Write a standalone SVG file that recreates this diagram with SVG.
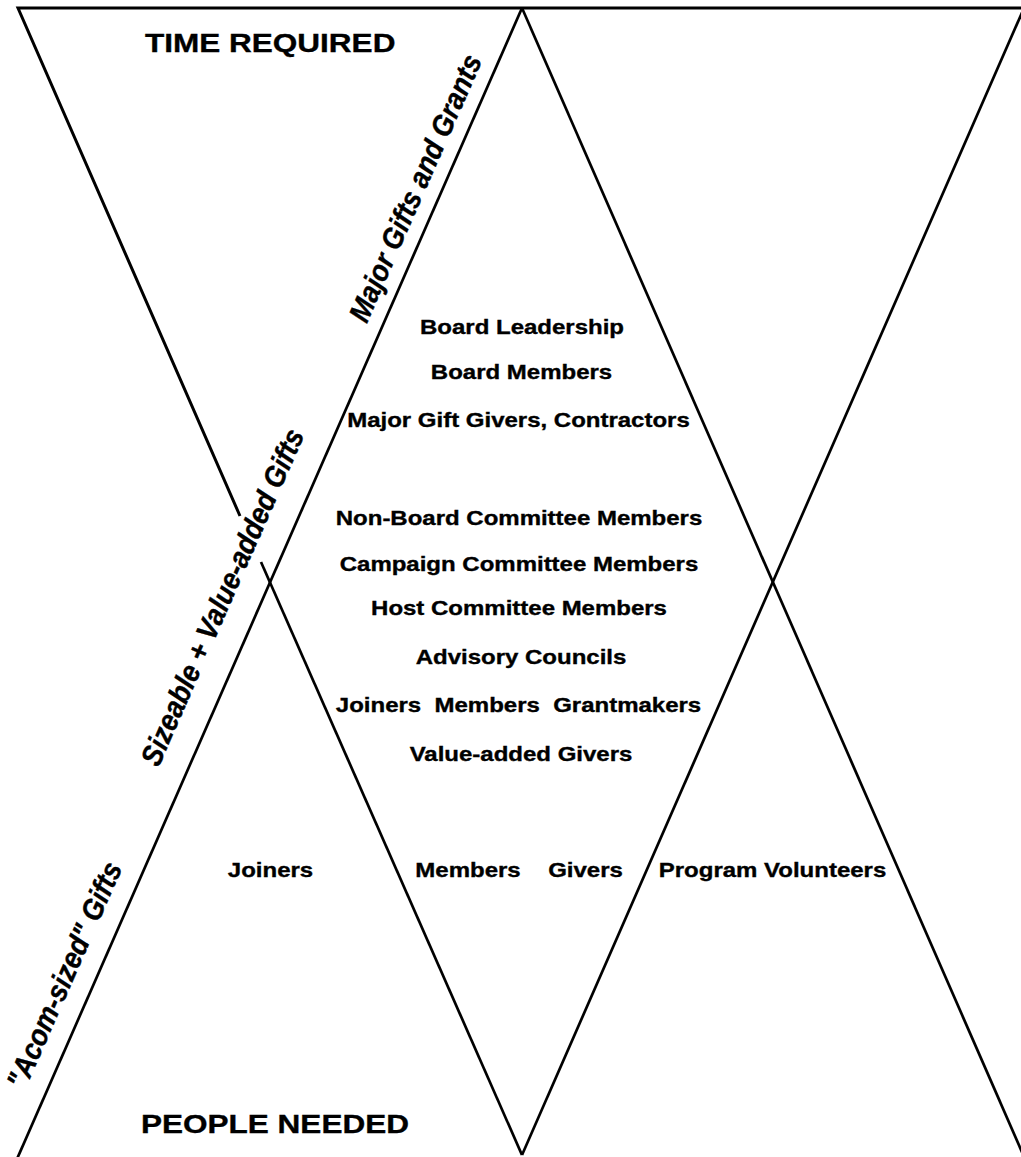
<svg xmlns="http://www.w3.org/2000/svg" width="1021" height="1157" viewBox="0 0 1021 1157">
<style>
.ln{stroke:#000;stroke-width:2.7;fill:none;stroke-linejoin:miter}
.t{font-family:"Liberation Sans",Arial,Helvetica,sans-serif;font-weight:bold;fill:#000;stroke:#000;stroke-width:0.35}
.b{font-size:20px;text-anchor:middle}
.h{font-size:26.5px}
.r{font-size:26.5px;font-style:italic;text-anchor:middle;dominant-baseline:central}
</style>
<rect width="1021" height="1157" fill="#fff"/>
<g id="connectors">
<path class="ln" d="M1024,8 H18 L240,516" style="stroke-width:3"/>
<line class="ln" x1="261" y1="562" x2="522" y2="1155"/>
<line class="ln" x1="522" y1="8" x2="17" y2="1159"/>
<line class="ln" x1="522" y1="8" x2="1025" y2="1159"/>
<line class="ln" x1="1024" y1="8" x2="522" y2="1155"/>
</g>
<g id="title-time"><text class="t h" transform="translate(145,52) scale(1.19,1)">TIME REQUIRED</text></g>
<g id="title-people"><text class="t h" transform="translate(141,1133) scale(1.19,1)">PEOPLE NEEDED</text></g>
<g id="label-major"><text class="t r" transform="translate(415,188) rotate(-66.3) scale(1.01,1.12)">Major Gifts and Grants</text></g>
<g id="label-sizeable"><text class="t r" transform="translate(222,597) rotate(-66.3) scale(1.01,1.12)">Sizeable + Value-added Gifts</text></g>
<g id="label-acorn"><text class="t r" transform="translate(64,975) rotate(-66.3) scale(1.01,1.12)">"Acom-sized" Gifts</text></g>
<g id="node-board-leadership"><text class="t b" transform="translate(522,334) scale(1.2,1)">Board Leadership</text></g>
<g id="node-board-members"><text class="t b" transform="translate(521.5,379) scale(1.2,1)">Board Members</text></g>
<g id="node-major-givers"><text class="t b" transform="translate(518.5,427) scale(1.2,1)">Major Gift Givers, Contractors</text></g>
<g id="node-nonboard"><text class="t b" transform="translate(519,525) scale(1.2,1)">Non-Board Committee Members</text></g>
<g id="node-campaign"><text class="t b" transform="translate(519,571) scale(1.2,1)">Campaign Committee Members</text></g>
<g id="node-host"><text class="t b" transform="translate(519,615) scale(1.2,1)">Host Committee Members</text></g>
<g id="node-advisory"><text class="t b" transform="translate(521,664) scale(1.2,1)">Advisory Councils</text></g>
<g id="node-joiners-members-grantmakers"><text class="t b" transform="translate(518.5,712) scale(1.2,1)" style="white-space:pre">Joiners  Members  Grantmakers</text></g>
<g id="node-value-added"><text class="t b" transform="translate(521,761) scale(1.2,1)">Value-added Givers</text></g>
<g id="node-joiners"><text class="t b" transform="translate(270.5,877) scale(1.2,1)">Joiners</text></g>
<g id="node-members"><text class="t b" transform="translate(468,877) scale(1.2,1)">Members</text></g>
<g id="node-givers"><text class="t b" transform="translate(585.5,877) scale(1.2,1)">Givers</text></g>
<g id="node-program"><text class="t b" transform="translate(772.5,877) scale(1.2,1)">Program Volunteers</text></g>
</svg>
